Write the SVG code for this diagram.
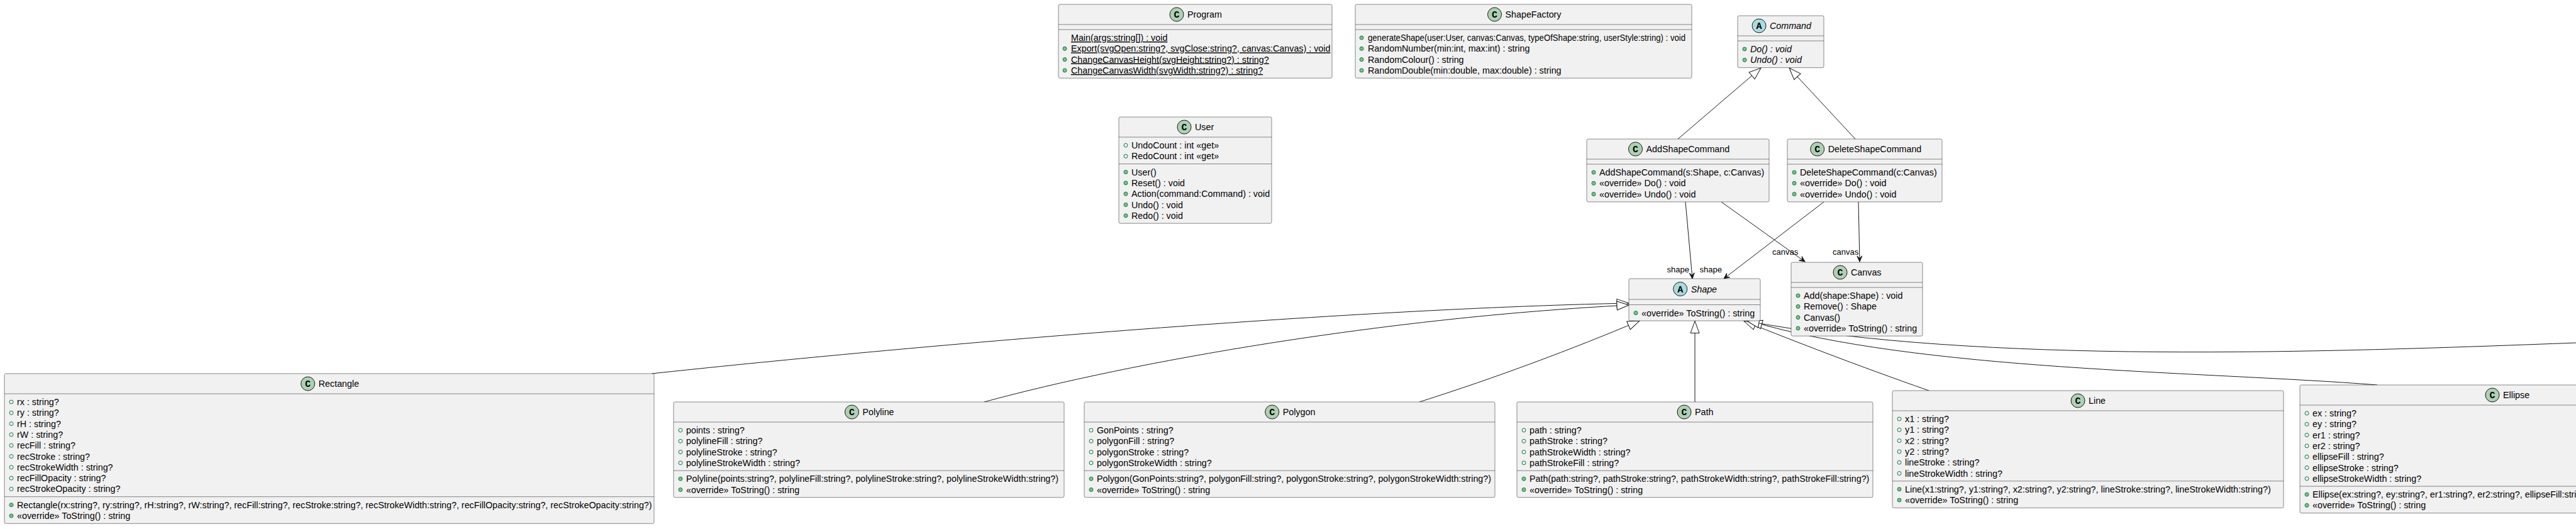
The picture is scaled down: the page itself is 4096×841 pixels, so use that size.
<svg xmlns="http://www.w3.org/2000/svg" width="4096" height="841" viewBox="0 0 4096 841">
<defs>
<style>
text{font-family:"Liberation Sans",Arial,sans-serif;font-size:14.3px;fill:#000}
.box{fill:#F1F1F1;stroke:#181818;stroke-width:0.5}
.sep{stroke:#181818;stroke-width:0.5}
.ci{fill:#ADD1B2;stroke:#181818;stroke-width:1}
.ai{fill:#A9DCDF;stroke:#181818;stroke-width:1}
.ic{font-family:"Liberation Mono",monospace;font-weight:bold;font-size:15px;text-anchor:middle}
.it{font-style:italic}
.u{text-decoration:underline}
.mb{fill:#84BE84;stroke:#038048;stroke-width:1}
.fb{fill:none;stroke:#038048;stroke-width:1}
.edge{fill:none;stroke:#181818;stroke-width:1}
.lbl{font-size:13px}
</style>
<marker id="tri" markerUnits="userSpaceOnUse" markerWidth="24" markerHeight="20" viewBox="-20 -10 24 20" refX="0" refY="0" orient="auto">
<path d="M0,0 L-19,-7 L-19,7 Z" fill="#FFFFFF" stroke="#181818" stroke-width="1"/>
</marker>
<marker id="arr" markerUnits="userSpaceOnUse" markerWidth="14" markerHeight="12" viewBox="-12 -6 14 12" refX="0" refY="0" orient="auto">
<path d="M0,0 L-9,-4 L-5,0 L-9,4 Z" fill="#181818" stroke="#181818" stroke-width="1"/>
</marker>
</defs>
<rect width="4096" height="841" fill="#FFFFFF"/>

<g id="connectors">
<path class="edge" marker-end="url(#tri)" d="M1036,594 C1400,555 2100,492 2590,482"/>
<path class="edge" marker-end="url(#tri)" d="M1565,639 C1800,575 2200,505 2590,485"/>
<path class="edge" marker-end="url(#tri)" d="M2257,639 C2380,600 2500,555 2607,510"/>
<path class="edge" marker-end="url(#tri)" d="M2695,639 L2695,510.5"/>
<path class="edge" marker-end="url(#tri)" d="M3067,621 C2950,580 2860,545 2773,510.5"/>
<path class="edge" marker-end="url(#tri)" d="M3780,612 C3500,590 3050,590 2783,510.5"/>
<path class="edge" marker-end="url(#tri)" d="M4096,545 C3700,560 3150,580 2778,510.5"/>
<path class="edge" marker-end="url(#tri)" d="M2668,221 L2800,108"/>
<path class="edge" marker-end="url(#tri)" d="M2950,221 L2845,108"/>
<path class="edge" marker-end="url(#arr)" d="M2680,321 L2691,443"/>
<path class="edge" marker-end="url(#arr)" d="M2737,321 L2870,416"/>
<path class="edge" marker-end="url(#arr)" d="M2900,321 L2741,443"/>
<path class="edge" marker-end="url(#arr)" d="M2955,321 L2957,416"/>
<text class="lbl" x="2686" y="433" text-anchor="end">shape</text>
<text class="lbl" x="2738" y="433" text-anchor="end">shape</text>
<text class="lbl" x="2818" y="405">canvas</text>
<text class="lbl" x="2914" y="405">canvas</text>
</g>

<g id="Program">
<rect class="box" x="1683" y="7" width="435" height="117.2" rx="2.5"/>
<circle class="ci" cx="1871" cy="23" r="11"/><text class="ic" x="1871" y="28">C</text>
<text x="1888" y="28">Program</text>
<line class="sep" x1="1683" y1="39" x2="2118" y2="39"/><line class="sep" x1="1683" y1="47" x2="2118" y2="47"/>
<text class="u" x="1703" y="65">Main(args:string[]) : void</text>
<circle class="mb" cx="1693" cy="77.3" r="3"/><text class="u" x="1703" y="82.3">Export(svgOpen:string?, svgClose:string?, canvas:Canvas) : void</text>
<circle class="mb" cx="1693" cy="94.6" r="3"/><text class="u" x="1703" y="99.6">ChangeCanvasHeight(svgHeight:string?) : string?</text>
<circle class="mb" cx="1693" cy="111.9" r="3"/><text class="u" x="1703" y="116.9">ChangeCanvasWidth(svgWidth:string?) : string?</text>
</g>

<g id="ShapeFactory">
<rect class="box" x="2155" y="7" width="535" height="117.2" rx="2.5"/>
<circle class="ci" cx="2376.5" cy="23" r="11"/><text class="ic" x="2376.5" y="28">C</text>
<text x="2393.5" y="28">ShapeFactory</text>
<line class="sep" x1="2155" y1="39" x2="2690" y2="39"/><line class="sep" x1="2155" y1="47" x2="2690" y2="47"/>
<circle class="mb" cx="2165" cy="60" r="3"/><text x="2175" y="65" textLength="505" lengthAdjust="spacingAndGlyphs">generateShape(user:User, canvas:Canvas, typeOfShape:string, userStyle:string) : void</text>
<circle class="mb" cx="2165" cy="77.3" r="3"/><text x="2175" y="82.3">RandomNumber(min:int, max:int) : string</text>
<circle class="mb" cx="2165" cy="94.6" r="3"/><text x="2175" y="99.6">RandomColour() : string</text>
<circle class="mb" cx="2165" cy="111.9" r="3"/><text x="2175" y="116.9">RandomDouble(min:double, max:double) : string</text>
</g>

<g id="Command">
<rect class="box" x="2763" y="25" width="137" height="82.6" rx="2.5"/>
<circle class="ai" cx="2797" cy="41" r="11"/><text class="ic" x="2797" y="46">A</text>
<text class="it" x="2814" y="46">Command</text>
<line class="sep" x1="2763" y1="57" x2="2900" y2="57"/><line class="sep" x1="2763" y1="65" x2="2900" y2="65"/>
<circle class="mb" cx="2774" cy="78" r="3"/><text class="it" x="2783" y="83">Do() : void</text>
<circle class="mb" cx="2774" cy="95.3" r="3"/><text class="it" x="2783" y="100.3">Undo() : void</text>
</g>

<g id="User">
<rect class="box" x="1779" y="186" width="243" height="169.1" rx="2.5"/>
<circle class="ci" cx="1883" cy="202" r="11"/><text class="ic" x="1883" y="207">C</text>
<text x="1900" y="207">User</text>
<line class="sep" x1="1779" y1="218" x2="2022" y2="218"/>
<circle class="fb" cx="1790" cy="231" r="3"/><text x="1799" y="236">UndoCount : int «get»</text>
<circle class="fb" cx="1790" cy="248.3" r="3"/><text x="1799" y="253.3">RedoCount : int «get»</text>
<line class="sep" x1="1779" y1="260.6" x2="2022" y2="260.6"/>
<circle class="mb" cx="1790" cy="273.6" r="3"/><text x="1799" y="278.6">User()</text>
<circle class="mb" cx="1790" cy="290.9" r="3"/><text x="1799" y="295.9">Reset() : void</text>
<circle class="mb" cx="1790" cy="308.2" r="3"/><text x="1799" y="313.2">Action(command:Command) : void</text>
<circle class="mb" cx="1790" cy="325.5" r="3"/><text x="1799" y="330.5">Undo() : void</text>
<circle class="mb" cx="1790" cy="342.8" r="3"/><text x="1799" y="347.8">Redo() : void</text>
</g>

<g id="AddShapeCommand">
<rect class="box" x="2523" y="221" width="290" height="99.9" rx="2.5"/>
<circle class="ci" cx="2600.5" cy="237" r="11"/><text class="ic" x="2600.5" y="242">C</text>
<text x="2617.5" y="242">AddShapeCommand</text>
<line class="sep" x1="2523" y1="253" x2="2813" y2="253"/><line class="sep" x1="2523" y1="261" x2="2813" y2="261"/>
<circle class="mb" cx="2534" cy="274" r="3"/><text x="2543" y="279">AddShapeCommand(s:Shape, c:Canvas)</text>
<circle class="mb" cx="2534" cy="291.3" r="3"/><text x="2543" y="296.3">«override» Do() : void</text>
<circle class="mb" cx="2534" cy="308.6" r="3"/><text x="2543" y="313.6">«override» Undo() : void</text>
</g>

<g id="DeleteShapeCommand">
<rect class="box" x="2842" y="221" width="246" height="99.9" rx="2.5"/>
<circle class="ci" cx="2889.7" cy="237" r="11"/><text class="ic" x="2889.7" y="242">C</text>
<text x="2906.7" y="242">DeleteShapeCommand</text>
<line class="sep" x1="2842" y1="253" x2="3088" y2="253"/><line class="sep" x1="2842" y1="261" x2="3088" y2="261"/>
<circle class="mb" cx="2853" cy="274" r="3"/><text x="2862" y="279">DeleteShapeCommand(c:Canvas)</text>
<circle class="mb" cx="2853" cy="291.3" r="3"/><text x="2862" y="296.3">«override» Do() : void</text>
<circle class="mb" cx="2853" cy="308.6" r="3"/><text x="2862" y="313.6">«override» Undo() : void</text>
</g>

<g id="Shape">
<rect class="box" x="2590" y="443" width="209" height="67" rx="2.5"/>
<circle class="ai" cx="2671.7" cy="459.5" r="11"/><text class="ic" x="2671.7" y="464.5">A</text>
<text class="it" x="2688.7" y="464.5">Shape</text>
<line class="sep" x1="2590" y1="476" x2="2799" y2="476"/><line class="sep" x1="2590" y1="484.5" x2="2799" y2="484.5"/>
<circle class="mb" cx="2601" cy="497.5" r="3"/><text x="2610" y="502.5">«override» ToString() : string</text>
</g>

<g id="Canvas">
<rect class="box" x="2848" y="417" width="209" height="117.2" rx="2.5"/>
<circle class="ci" cx="2926" cy="433" r="11"/><text class="ic" x="2926" y="438">C</text>
<text x="2943" y="438">Canvas</text>
<line class="sep" x1="2848" y1="449" x2="3057" y2="449"/><line class="sep" x1="2848" y1="457" x2="3057" y2="457"/>
<circle class="mb" cx="2859" cy="470" r="3"/><text x="2868" y="475">Add(shape:Shape) : void</text>
<circle class="mb" cx="2859" cy="487.3" r="3"/><text x="2868" y="492.3">Remove() : Shape</text>
<circle class="mb" cx="2859" cy="504.6" r="3"/><text x="2868" y="509.6">Canvas()</text>
<circle class="mb" cx="2859" cy="521.9" r="3"/><text x="2868" y="526.9">«override» ToString() : string</text>
</g>

<g id="Rectangle">
<rect class="box" x="7" y="594" width="1033" height="238.3" rx="2.5"/>
<circle class="ci" cx="489.5" cy="610" r="11"/><text class="ic" x="489.5" y="615">C</text>
<text x="506.5" y="615">Rectangle</text>
<line class="sep" x1="7" y1="626" x2="1040" y2="626"/>
<circle class="fb" cx="18" cy="639" r="3"/><text x="27" y="644">rx : string?</text>
<circle class="fb" cx="18" cy="656.3" r="3"/><text x="27" y="661.3">ry : string?</text>
<circle class="fb" cx="18" cy="673.6" r="3"/><text x="27" y="678.6">rH : string?</text>
<circle class="fb" cx="18" cy="690.9" r="3"/><text x="27" y="695.9">rW : string?</text>
<circle class="fb" cx="18" cy="708.2" r="3"/><text x="27" y="713.2">recFill : string?</text>
<circle class="fb" cx="18" cy="725.5" r="3"/><text x="27" y="730.5">recStroke : string?</text>
<circle class="fb" cx="18" cy="742.8" r="3"/><text x="27" y="747.8">recStrokeWidth : string?</text>
<circle class="fb" cx="18" cy="760.1" r="3"/><text x="27" y="765.1">recFillOpacity : string?</text>
<circle class="fb" cx="18" cy="777.4" r="3"/><text x="27" y="782.4">recStrokeOpacity : string?</text>
<line class="sep" x1="7" y1="789.7" x2="1040" y2="789.7"/>
<circle class="mb" cx="18" cy="802.7" r="3"/><text x="27" y="807.7">Rectangle(rx:string?, ry:string?, rH:string?, rW:string?, recFill:string?, recStroke:string?, recStrokeWidth:string?, recFillOpacity:string?, recStrokeOpacity:string?)</text>
<circle class="mb" cx="18" cy="820" r="3"/><text x="27" y="825">«override» ToString() : string</text>
</g>

<g id="Polyline">
<rect class="box" x="1071" y="639" width="621" height="151.8" rx="2.5"/>
<circle class="ci" cx="1354.5" cy="655" r="11"/><text class="ic" x="1354.5" y="660">C</text>
<text x="1371.5" y="660">Polyline</text>
<line class="sep" x1="1071" y1="671" x2="1692" y2="671"/>
<circle class="fb" cx="1082" cy="684" r="3"/><text x="1091" y="689">points : string?</text>
<circle class="fb" cx="1082" cy="701.3" r="3"/><text x="1091" y="706.3">polylineFill : string?</text>
<circle class="fb" cx="1082" cy="718.6" r="3"/><text x="1091" y="723.6">polylineStroke : string?</text>
<circle class="fb" cx="1082" cy="735.9" r="3"/><text x="1091" y="740.9">polylineStrokeWidth : string?</text>
<line class="sep" x1="1071" y1="748.2" x2="1692" y2="748.2"/>
<circle class="mb" cx="1082" cy="761.2" r="3"/><text x="1091" y="766.2">Polyline(points:string?, polylineFill:string?, polylineStroke:string?, polylineStrokeWidth:string?)</text>
<circle class="mb" cx="1082" cy="778.5" r="3"/><text x="1091" y="783.5">«override» ToString() : string</text>
</g>

<g id="Polygon">
<rect class="box" x="1724" y="639" width="653" height="151.8" rx="2.5"/>
<circle class="ci" cx="2022.7" cy="655" r="11"/><text class="ic" x="2022.7" y="660">C</text>
<text x="2039.7" y="660">Polygon</text>
<line class="sep" x1="1724" y1="671" x2="2377" y2="671"/>
<circle class="fb" cx="1735" cy="684" r="3"/><text x="1744" y="689">GonPoints : string?</text>
<circle class="fb" cx="1735" cy="701.3" r="3"/><text x="1744" y="706.3">polygonFill : string?</text>
<circle class="fb" cx="1735" cy="718.6" r="3"/><text x="1744" y="723.6">polygonStroke : string?</text>
<circle class="fb" cx="1735" cy="735.9" r="3"/><text x="1744" y="740.9">polygonStrokeWidth : string?</text>
<line class="sep" x1="1724" y1="748.2" x2="2377" y2="748.2"/>
<circle class="mb" cx="1735" cy="761.2" r="3"/><text x="1744" y="766.2">Polygon(GonPoints:string?, polygonFill:string?, polygonStroke:string?, polygonStrokeWidth:string?)</text>
<circle class="mb" cx="1735" cy="778.5" r="3"/><text x="1744" y="783.5">«override» ToString() : string</text>
</g>

<g id="Path">
<rect class="box" x="2412" y="639" width="566" height="151.8" rx="2.5"/>
<circle class="ci" cx="2678" cy="655" r="11"/><text class="ic" x="2678" y="660">C</text>
<text x="2695" y="660">Path</text>
<line class="sep" x1="2412" y1="671" x2="2978" y2="671"/>
<circle class="fb" cx="2423" cy="684" r="3"/><text x="2432" y="689">path : string?</text>
<circle class="fb" cx="2423" cy="701.3" r="3"/><text x="2432" y="706.3">pathStroke : string?</text>
<circle class="fb" cx="2423" cy="718.6" r="3"/><text x="2432" y="723.6">pathStrokeWidth : string?</text>
<circle class="fb" cx="2423" cy="735.9" r="3"/><text x="2432" y="740.9">pathStrokeFill : string?</text>
<line class="sep" x1="2412" y1="748.2" x2="2978" y2="748.2"/>
<circle class="mb" cx="2423" cy="761.2" r="3"/><text x="2432" y="766.2">Path(path:string?, pathStroke:string?, pathStrokeWidth:string?, pathStrokeFill:string?)</text>
<circle class="mb" cx="2423" cy="778.5" r="3"/><text x="2432" y="783.5">«override» ToString() : string</text>
</g>

<g id="Line">
<rect class="box" x="3009" y="621" width="622" height="186.4" rx="2.5"/>
<circle class="ci" cx="3304" cy="637" r="11"/><text class="ic" x="3304" y="642">C</text>
<text x="3321" y="642">Line</text>
<line class="sep" x1="3009" y1="653" x2="3631" y2="653"/>
<circle class="fb" cx="3020" cy="666" r="3"/><text x="3029" y="671">x1 : string?</text>
<circle class="fb" cx="3020" cy="683.3" r="3"/><text x="3029" y="688.3">y1 : string?</text>
<circle class="fb" cx="3020" cy="700.6" r="3"/><text x="3029" y="705.6">x2 : string?</text>
<circle class="fb" cx="3020" cy="717.9" r="3"/><text x="3029" y="722.9">y2 : string?</text>
<circle class="fb" cx="3020" cy="735.2" r="3"/><text x="3029" y="740.2">lineStroke : string?</text>
<circle class="fb" cx="3020" cy="752.5" r="3"/><text x="3029" y="757.5">lineStrokeWidth : string?</text>
<line class="sep" x1="3009" y1="764.8" x2="3631" y2="764.8"/>
<circle class="mb" cx="3020" cy="777.8" r="3"/><text x="3029" y="782.8">Line(x1:string?, y1:string?, x2:string?, y2:string?, lineStroke:string?, lineStrokeWidth:string?)</text>
<circle class="mb" cx="3020" cy="795.1" r="3"/><text x="3029" y="800.1">«override» ToString() : string</text>
</g>

<g id="Ellipse">
<rect class="box" x="3657" y="612" width="662" height="203.7" rx="2.5"/>
<circle class="ci" cx="3963" cy="628" r="11"/><text class="ic" x="3963" y="633">C</text>
<text x="3980" y="633">Ellipse</text>
<line class="sep" x1="3657" y1="644" x2="4319" y2="644"/>
<circle class="fb" cx="3668" cy="657" r="3"/><text x="3677" y="662">ex : string?</text>
<circle class="fb" cx="3668" cy="674.3" r="3"/><text x="3677" y="679.3">ey : string?</text>
<circle class="fb" cx="3668" cy="691.6" r="3"/><text x="3677" y="696.6">er1 : string?</text>
<circle class="fb" cx="3668" cy="708.9" r="3"/><text x="3677" y="713.9">er2 : string?</text>
<circle class="fb" cx="3668" cy="726.2" r="3"/><text x="3677" y="731.2">ellipseFill : string?</text>
<circle class="fb" cx="3668" cy="743.5" r="3"/><text x="3677" y="748.5">ellipseStroke : string?</text>
<circle class="fb" cx="3668" cy="760.8" r="3"/><text x="3677" y="765.8">ellipseStrokeWidth : string?</text>
<line class="sep" x1="3657" y1="773.1" x2="4319" y2="773.1"/>
<circle class="mb" cx="3668" cy="786.1" r="3"/><text x="3677" y="791.1">Ellipse(ex:string?, ey:string?, er1:string?, er2:string?, ellipseFill:string?, ellipseStroke:string?, ellipseStrokeWidth:string?)</text>
<circle class="mb" cx="3668" cy="803.4" r="3"/><text x="3677" y="808.4">«override» ToString() : string</text>
</g>
</svg>
